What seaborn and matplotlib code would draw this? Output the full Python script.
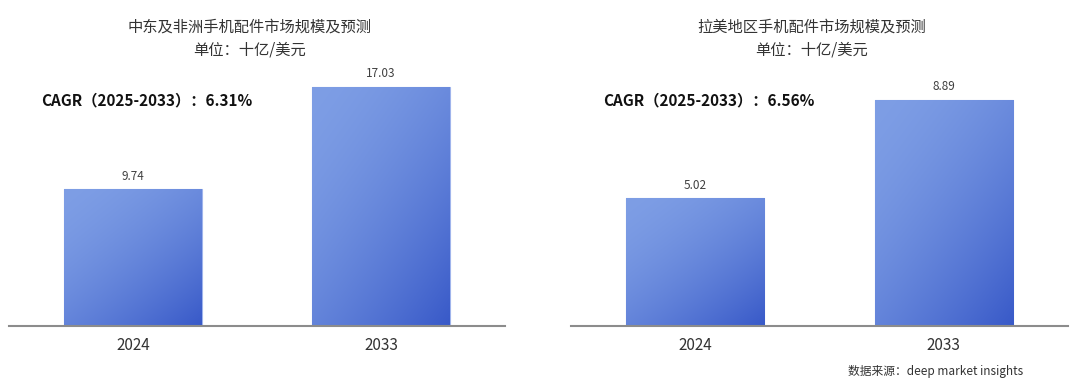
import numpy as np
import matplotlib
matplotlib.use("Agg")
import matplotlib.pyplot as plt
import seaborn as sns
from matplotlib.colors import to_rgb

# ---------------- data ----------------
years = ["2024", "2033"]
mea_values = [9.74, 17.03]
latam_values = [5.02, 8.89]
mea_title = "中东及非洲手机配件市场规模及预测"
latam_title = "拉美地区手机配件市场规模及预测"
unit_label = "单位：十亿/美元"
mea_cagr = "CAGR（2025-2033）：6.31%"
latam_cagr = "CAGR（2025-2033）：6.56%"
source_text = "数据来源：deep market insights"

# ---------------- style ----------------
sns.set_theme(style="white")
plt.rcParams["font.family"] = ["Noto Sans CJK SC", "DejaVu Sans"]

W, H = 1080, 389
fig = plt.figure(figsize=(W / 100, H / 100), dpi=100)
fig.patch.set_facecolor("white")

def fx(px):
    return px / W

def fy(py):
    return 1 - py / H

c_light = np.array(to_rgb("#7e9ee5"))
c_dark = np.array(to_rgb("#3859c8"))

def gradient_bars(ax):
    n = 200
    r, c = np.mgrid[0:n, 0:n] / (n - 1)
    t = (0.45 * c + 0.55 * r)
    t = np.clip(t, 0, 1) ** 1.6
    img = c_light[None, None, :] * (1 - t[..., None]) + c_dark[None, None, :] * t[..., None]
    for p in ax.patches:
        x0, y0 = p.get_x(), p.get_y()
        w, h = p.get_width(), p.get_height()
        im = ax.imshow(img, extent=(x0, x0 + w, y0, y0 + h), origin="upper",
                       aspect="auto", zorder=p.get_zorder() + 0.1, interpolation="bilinear")
        im.set_clip_path(p)
        p.set_edgecolor("#9fb4ec")
        p.set_linewidth(0.8)

def draw_panel(rect, values, ymax_factor):
    ax = fig.add_axes(rect)
    sns.barplot(x=years, y=values, ax=ax, width=0.556, color="#6585dc",
                saturation=1, edgecolor="none")
    gradient_bars(ax)
    for p, v in zip(ax.patches, values):
        ax.annotate(f"{v:.2f}", (p.get_x() + p.get_width() / 2, p.get_height()),
                    xytext=(0, 9.5), textcoords="offset points", ha="center", va="center",
                    fontsize=8.5, color="#404040")
    ax.set_xlim(-0.5, 1.5)
    ax.set_ylim(0, max(values) * ymax_factor)
    ax.set_facecolor("none")
    for s in ["top", "right", "left"]:
        ax.spines[s].set_visible(False)
    ax.spines["bottom"].set_color("#8c8c8c")
    ax.spines["bottom"].set_linewidth(1.5)
    ax.set_yticks([])
    ax.set_xlabel("")
    ax.set_ylabel("")
    ax.tick_params(axis="x", length=0, pad=8, labelsize=11, labelcolor="#333333")
    return ax

bottom = fy(326)
height = (326 - 60) / H
ax1 = draw_panel([fx(9), bottom, fx(505) - fx(9), height], mea_values, 266 / 239)
ax2 = draw_panel([fx(571), bottom, fx(1068) - fx(571), height], latam_values, 266 / 226)

# titles
fig.text(fx(250), fy(27), mea_title, ha="center", va="center", fontsize=11, color="#333333")
fig.text(fx(250), fy(50), unit_label, ha="center", va="center", fontsize=11, color="#333333")
fig.text(fx(812), fy(27), latam_title, ha="center", va="center", fontsize=11, color="#333333")
fig.text(fx(812), fy(50), unit_label, ha="center", va="center", fontsize=11, color="#333333")

# CAGR
fig.text(fx(41), fy(100), mea_cagr, ha="left", va="center", fontsize=11,
         fontweight="bold", color="#111111")
fig.text(fx(603), fy(100), latam_cagr, ha="left", va="center", fontsize=11,
         fontweight="bold", color="#111111")

# source
fig.text(fx(1023), fy(371), source_text, ha="right", va="center", fontsize=8.5, color="#333333")

fig.savefig("out.png", dpi=100, facecolor="white")
